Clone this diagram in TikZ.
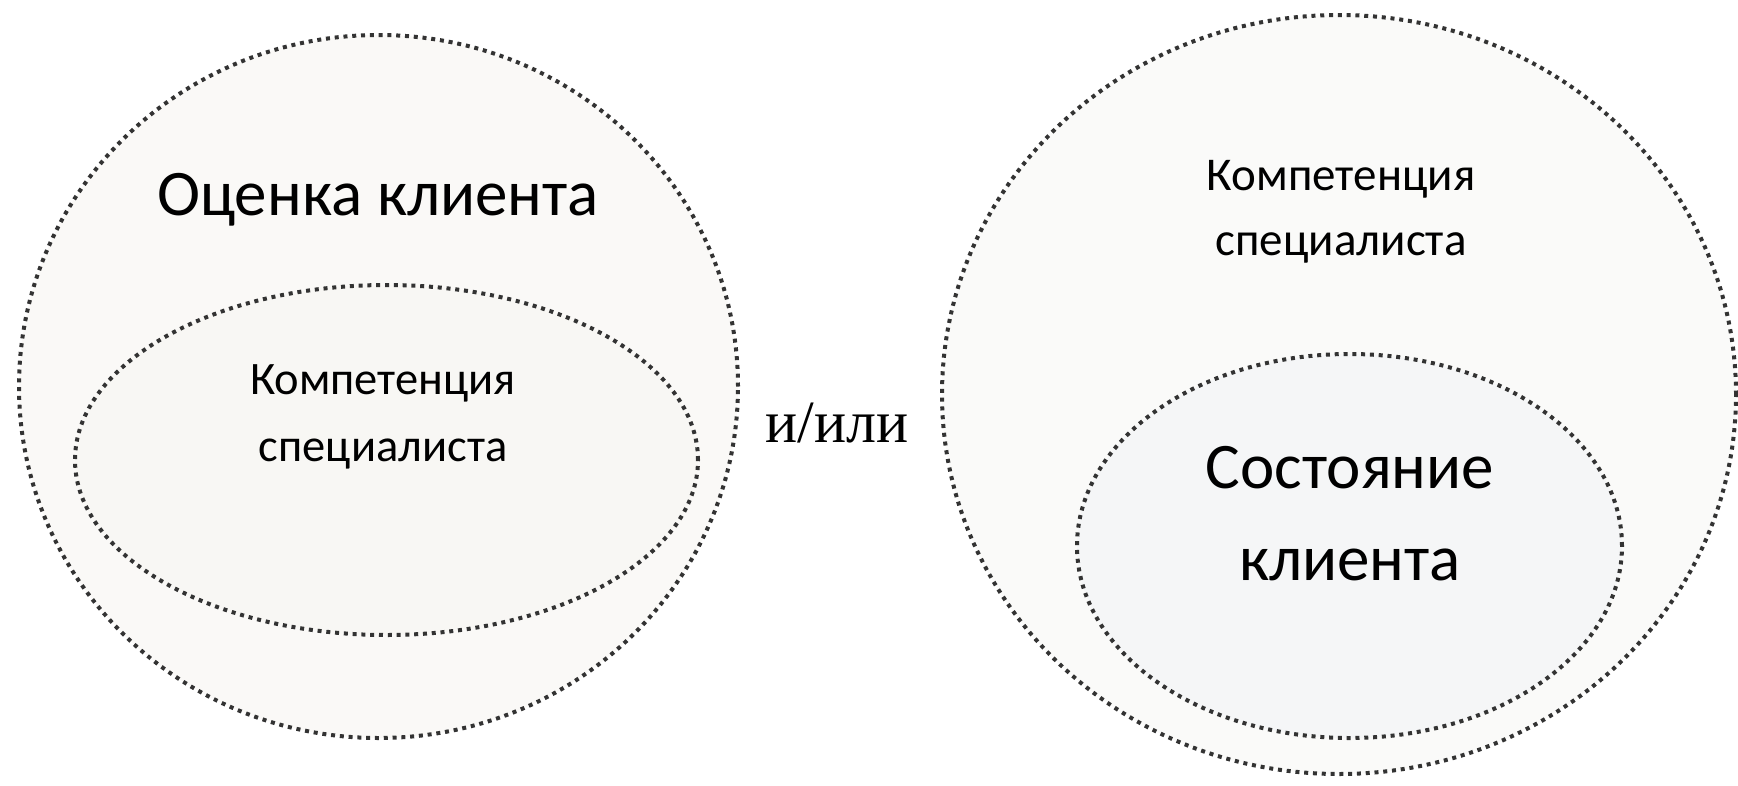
\documentclass[tikz,border=0pt]{standalone}
\usepackage{fontspec}
\setmainfont{Carlito}
\newfontfamily\serifru{Liberation Serif}
\usetikzlibrary{shapes.geometric}
\begin{document}
\begin{tikzpicture}[x=1pt,y=-1pt,
  dotline/.style={draw=black!80, line width=4pt, dash pattern=on 4pt off 4.8pt},
  blob/.style={ellipse, dotline, inner sep=0pt},
  lbl/.style={align=center, inner sep=0pt, text=black}]
\useasboundingbox[fill=white] (0,0) rectangle (1738,785);
% left group
\node[blob, fill={rgb,255:red,250;green,249;blue,247}, minimum width=719pt, minimum height=703pt] (outerL) at (378.5,386.5) {};
\node[blob, fill={rgb,255:red,248;green,247;blue,244}, minimum width=623pt, minimum height=350pt] (innerL) at (386.5,460) {};
\node[lbl, font=\fontsize{65}{72}\selectfont] (titleL) at (378,200) {Оценка клиента};
\node[lbl, font=\fontsize{46.5}{67}\selectfont] (compL) at (383,417) {Компетенция\\специалиста};
% connector word
\node[lbl, font=\serifru\fontsize{60}{70}\selectfont] (andor) at (837,423) {и/или};
% right group
\node[blob, fill={rgb,255:red,250;green,250;blue,249}, minimum width=794pt, minimum height=759pt] (outerR) at (1339,394.5) {};
\node[blob, fill={rgb,255:red,245;green,246;blue,247}, minimum width=545pt, minimum height=384pt] (innerR) at (1349.5,546) {};
\node[lbl, font=\fontsize{47}{65}\selectfont] (compR) at (1341,212) {Компетенция\\специалиста};
\node[lbl, font=\fontsize{65}{92}\selectfont] (stateR) at (1350,514) {Состояние\\клиента};
\end{tikzpicture}
\end{document}
